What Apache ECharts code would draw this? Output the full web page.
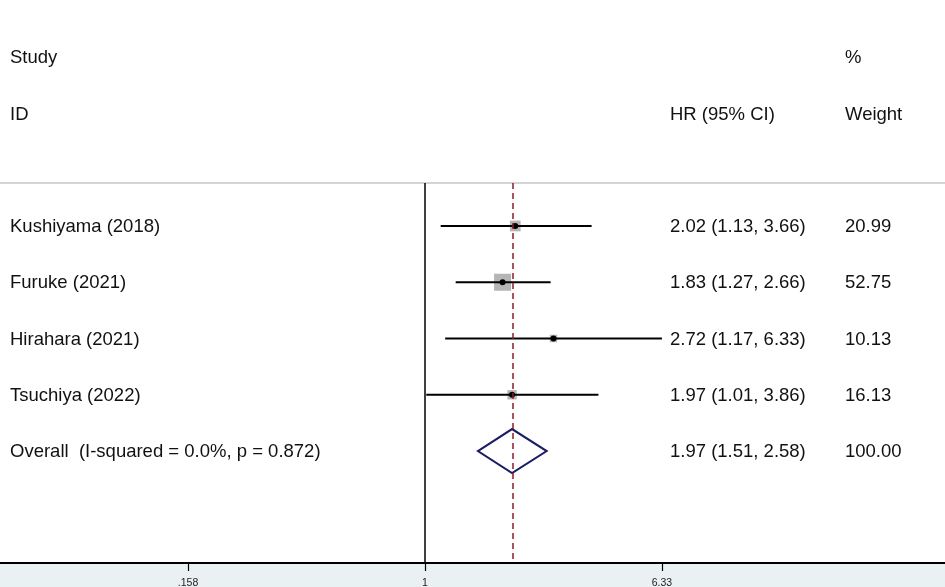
<!DOCTYPE html>
<html>
<head>
<meta charset="utf-8">
<script src="https://cdn.jsdelivr.net/npm/echarts@6/dist/echarts.min.js"></script>
<style>
  html, body { margin: 0; padding: 0; background: #fff; }
  #main { width: 945px; height: 587px; }
</style>
</head>
<body>
<div id="main"></div>
<script>
// 研究名称与数据
var studies = ['Kushiyama (2018)', 'Furuke (2021)', 'Hirahara (2021)', 'Tsuchiya (2022)'];
var hr = [2.02, 1.83, 2.72, 1.97];
var ciLow = [1.13, 1.27, 1.17, 1.01];
var ciHigh = [3.66, 2.66, 6.33, 3.86];
var weights = [20.99, 52.75, 10.13, 16.13];

// 合并结果
var overallLabel = 'Overall  (I-squared = 0.0%, p = 0.872)';
var overallHr = 1.97;
var overallLow = 1.51;
var overallHigh = 2.58;
var overallWeight = 100.00;

// x轴刻度
var tickValues = [0.158, 1, 6.33];
var tickLabels = ['.158', '1', '6.33'];

var FONT = '"Liberation Sans", Arial, sans-serif';
var TEXT_FONT = '18.5px ' + FONT;

function fmt(v) { return v.toFixed(2); }

var rows = studies.map(function (s, i) {
  return [Math.log(hr[i]), i, Math.log(ciLow[i]), Math.log(ciHigh[i]), weights[i], 0];
});
rows.push([Math.log(overallHr), studies.length, Math.log(overallLow), Math.log(overallHigh), overallWeight, 1]);

function labelOf(idx) { return idx < studies.length ? studies[idx] : overallLabel; }
function hrText(idx) {
  if (idx < studies.length) return fmt(hr[idx]) + ' (' + fmt(ciLow[idx]) + ', ' + fmt(ciHigh[idx]) + ')';
  return fmt(overallHr) + ' (' + fmt(overallLow) + ', ' + fmt(overallHigh) + ')';
}

function txt(x, y, s) {
  return {
    type: 'text',
    style: { x: x, y: y, text: s, fill: '#111', font: TEXT_FONT, textVerticalAlign: 'middle' }
  };
}

function renderItem(params, api) {
  var row = api.value(1);
  var idx = params.dataIndex;
  var c = api.coord([api.value(0), row]);
  var lo = api.coord([api.value(2), row]);
  var hi = api.coord([api.value(3), row]);
  var w = api.value(4);
  var children = [];
  if (api.value(5) === 1) {
    // 菱形
    children.push({
      type: 'polygon',
      shape: { points: [[lo[0], c[1]], [c[0], c[1] - 22], [hi[0], c[1]], [c[0], c[1] + 22]] },
      style: { fill: 'none', stroke: '#1b1b66', lineWidth: 2 }
    });
  } else {
    var side = 2.34 * Math.sqrt(w);
    children.push({
      type: 'rect',
      shape: { x: c[0] - side / 2, y: c[1] - side / 2, width: side, height: side },
      style: { fill: '#b5b5b5' }
    });
    children.push({
      type: 'line',
      shape: { x1: lo[0], y1: lo[1], x2: hi[0], y2: hi[1] },
      style: { stroke: '#000', lineWidth: 2 }
    });
    children.push({
      type: 'circle',
      shape: { cx: c[0], cy: c[1], r: 3 },
      style: { fill: '#000' }
    });
  }
  children.push(txt(10, c[1] + 1, labelOf(idx)));
  children.push(txt(670, c[1] + 1, hrText(idx)));
  children.push(txt(845, c[1] + 1, fmt(w)));
  return { type: 'group', children: children };
}

function header(x, y, s) {
  return { type: 'text', x: x, y: y, style: { text: s, fill: '#111', font: TEXT_FONT, textVerticalAlign: 'middle' } };
}

var chart = echarts.init(document.getElementById('main'));
chart.setOption({
  animation: false,
  backgroundColor: '#fff',
  grid: { left: 0, right: 0, top: 183, bottom: 24, containLabel: false, outerBoundsMode: 'none' },
  graphic: [
    { type: 'rect', left: 0, top: 563, shape: { width: 945, height: 24 }, style: { fill: '#e9f1f3' }, z: -1 },
    { type: 'line', shape: { x1: 0, y1: 183, x2: 945, y2: 183 }, style: { stroke: '#c6c6c6', lineWidth: 1.5 } },
    header(10, 58, 'Study'),
    header(10, 115, 'ID'),
    header(670, 115, 'HR (95% CI)'),
    header(845, 58, '%'),
    header(845, 115, 'Weight')
  ],
  xAxis: {
    type: 'value',
    min: -3.31,
    max: 4.05,
    splitLine: { show: false },
    axisLine: { show: true, onZero: false, lineStyle: { color: '#000', width: 2 } },
    axisTick: {
      show: true, length: 8, lineStyle: { color: '#000', width: 1.2 },
      customValues: tickValues.map(Math.log)
    },
    axisLabel: {
      show: true, margin: 15, fontSize: 10.5, color: '#222', fontFamily: FONT,
      customValues: tickValues.map(Math.log),
      formatter: function (v) {
        for (var i = 0; i < tickValues.length; i++) {
          if (Math.abs(Math.log(tickValues[i]) - v) < 1e-6) return tickLabels[i];
        }
        return '';
      }
    }
  },
  yAxis: {
    type: 'value',
    inverse: true,
    min: -0.764,
    max: 5.99,
    show: false
  },
  series: [
    {
      type: 'custom',
      renderItem: renderItem,
      clip: false,
      data: rows,
      encode: { x: [0, 2, 3], y: 1 },
      z: 3,
      markLine: {
        silent: true,
        symbol: 'none',
        label: { show: false },
        data: [
          { xAxis: 0, lineStyle: { color: '#000', width: 1.5, type: 'solid' } },
          { xAxis: Math.log(overallHr), lineStyle: { color: '#8b1c2c', width: 1.5, type: [6, 4] } }
        ]
      }
    }
  ]
});
</script>
</body>
</html>
